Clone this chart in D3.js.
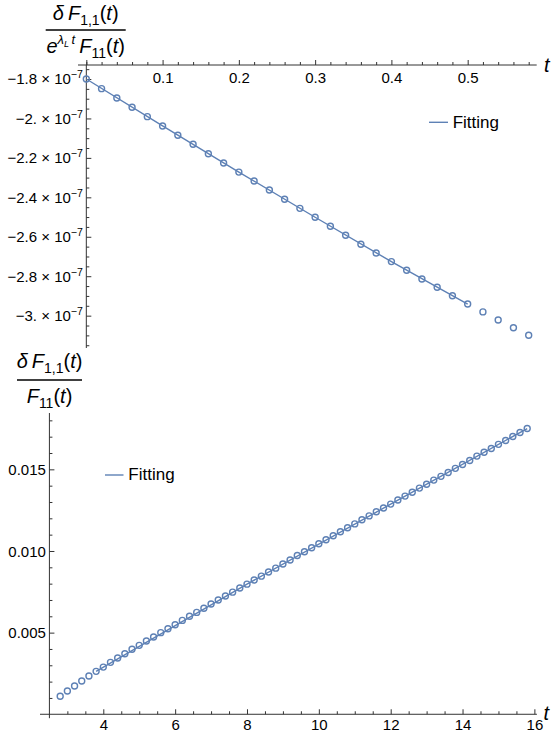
<!DOCTYPE html>
<html><head><meta charset="utf-8">
<script src="https://cdn.jsdelivr.net/npm/d3@7"></script>
<style>
body{margin:0;background:#fff;}
svg{display:block;font-family:"Liberation Sans",Arial,sans-serif;}
</style></head><body>
<svg id="c" width="552" height="737"></svg>
<script>
// ---------- data ----------
const topT = [0,0.02,0.04,0.06,0.08,0.10,0.12,0.14,0.16,0.18,0.20,0.22,0.24,0.26,0.28,0.30,0.32,0.34,0.36,0.38,0.40,0.42,0.44,0.46,0.48,0.50,0.52,0.54,0.56,0.58];
const topVals = [-1.800,-1.849,-1.896,-1.943,-1.991,-2.038,-2.085,-2.131,-2.179,-2.226,-2.272,-2.317,-2.363,-2.410,-2.456,-2.501,-2.547,-2.592,-2.638,-2.682,-2.726,-2.770,-2.814,-2.856,-2.899,-2.941,-2.981,-3.022,-3.061,-3.099]; // ×10^-7
const topFitT = [0,0.1,0.2,0.3,0.4,0.5];
const topFitVals = [-1.800,-2.038,-2.272,-2.501,-2.726,-2.941];
const topXTicks = [0.1,0.2,0.3,0.4,0.5];
const topXTickLabels = ["0.1","0.2","0.3","0.4","0.5"];
const topYTicks = [-1.8,-2.0,-2.2,-2.4,-2.6,-2.8,-3.0];
const topYTickLabels = ["\u22121.8","\u22122.","\u22122.2","\u22122.4","\u22122.6","\u22122.8","\u22123."];

const botT = [2.8,3.0,3.2,3.4,3.6,3.8,4.0,4.2,4.4,4.6,4.8,5.0,5.2,5.4,5.6,5.8,6.0,6.2,6.4,6.6,6.8,7.0,7.2,7.4,7.6,7.8,8.0,8.2,8.4,8.6,8.8,9.0,9.2,9.4,9.6,9.8,10.0,10.2,10.4,10.6,10.8,11.0,11.2,11.4,11.6,11.8,12.0,12.2,12.4,12.6,12.8,13.0,13.2,13.4,13.6,13.8,14.0,14.2,14.4,14.6,14.8,15.0,15.2,15.4,15.6,15.8];
const botVals = [0.00110,0.00143,0.00173,0.00204,0.00234,0.00263,0.00289,0.00318,0.00345,0.00371,0.00398,0.00422,0.00449,0.00473,0.00500,0.00524,0.00548,0.00575,0.00600,0.00624,0.00649,0.00675,0.00700,0.00724,0.00748,0.00773,0.00797,0.00822,0.00846,0.00871,0.00895,0.00920,0.00945,0.00972,0.00995,0.01020,0.01044,0.01069,0.01093,0.01118,0.01142,0.01166,0.01191,0.01215,0.01240,0.01263,0.01287,0.01312,0.01336,0.01360,0.01385,0.01409,0.01434,0.01457,0.01481,0.01506,0.01530,0.01554,0.01581,0.01605,0.01628,0.01653,0.01677,0.01701,0.01726,0.01750];
const botFitT = [3.8,8,12,15.8];
const botFitVals = [0.00263,0.00797,0.01287,0.01750];
const botXTicks = [4,6,8,10,12,14,16];
const botXTickLabels = ["4","6","8","10","12","14","16"];
const botYTicks = [0.005,0.010,0.015];
const botYTickLabels = ["0.005","0.010","0.015"];
const legendLabel = "Fitting";

// ---------- style ----------
const BLUE = "#5E81B5";
const AXIS = "#333";
const R = 3.0, SW = 1.4;
const svg = d3.select("#c");

function near(a,list){return list.some(b=>Math.abs(a-b)<1e-9);}

// ================= TOP PANEL =================
const xT = d3.scaleLinear().domain([-0.0109, 0.5905]).range([78, 536.7]);
const yT = d3.scaleLinear().domain([-1.729, -3.164]).range([65, 348]);
const gT = svg.append("g");

const topMinorX = d3.range(0, 0.5901, 0.02).map(v=>+v.toFixed(2)).filter(v=>!near(v,topXTicks));
gT.append("g").attr("transform","translate(0,65)").call(d3.axisTop(xT).tickValues(topMinorX).tickSize(3).tickFormat(""));
const gxT = gT.append("g").attr("transform","translate(0,65)").call(d3.axisTop(xT).tickValues([0].concat(topXTicks)).tickSize(5)
  .tickFormat((d)=>{const i=topXTicks.indexOf(d);return i<0?"":topXTickLabels[i];}));
gxT.selectAll("text").attr("y",18).attr("dy",0).style("font-size","15px").attr("fill","#000");

const topMinorY = d3.range(-1.75,-3.1601,-0.05).map(v=>+v.toFixed(2)).filter(v=>!near(v,topYTicks));
const y0x = xT(0);
gT.append("g").attr("transform",`translate(${y0x},0)`).call(d3.axisRight(yT).tickValues(topMinorY).tickSize(3).tickFormat(""));
gT.append("g").attr("transform",`translate(${y0x},0)`).call(d3.axisRight(yT).tickValues(topYTicks).tickSize(5).tickFormat(""));
gT.selectAll(".domain").remove();
gT.selectAll("line").attr("stroke",AXIS);
gT.append("line").attr("x1",78).attr("x2",536.7).attr("y1",65).attr("y2",65).attr("stroke",AXIS);
gT.append("line").attr("x1",y0x).attr("x2",y0x).attr("y1",yT(-1.729)).attr("y2",yT(-3.164)).attr("stroke",AXIS);

topYTicks.forEach((v,i)=>{
  const t = gT.append("text").attr("x",y0x-3.5).attr("y",yT(v)+5.3)
    .attr("text-anchor","end").style("font-size","15px").attr("fill","#000");
  t.append("tspan").text(topYTickLabels[i]+" \u00d7 10");
  t.append("tspan").attr("dy",-6).style("font-size","10.5px").text("\u22127");
});

gT.append("path").datum(topFitT.map((t,i)=>[t,topFitVals[i]]))
  .attr("d",d3.line().x(d=>xT(d[0])).y(d=>yT(d[1])))
  .attr("fill","none").attr("stroke",BLUE).attr("stroke-width",1.4);
gT.selectAll("circle.p").data(topT.map((t,i)=>[t,topVals[i]])).join("circle")
  .attr("cx",d=>xT(d[0])).attr("cy",d=>yT(d[1])).attr("r",R)
  .attr("fill","none").attr("stroke",BLUE).attr("stroke-width",SW);

gT.append("line").attr("x1",429).attr("x2",448).attr("y1",122.3).attr("y2",122.3).attr("stroke",BLUE).attr("stroke-width",1.4);
gT.append("text").attr("x",452.7).attr("y",128).style("font-size","17px").text(legendLabel);

gT.append("text").attr("x",544).attr("y",72).style("font-size","20px").style("font-style","italic").text("t");

(function(){
  const cx=85.7;
  gT.append("line").attr("x1",45.7).attr("x2",125.7).attr("y1",30).attr("y2",30).attr("stroke","#000").attr("stroke-width",1.3);
  const n = gT.append("text").attr("x",cx).attr("y",20).attr("text-anchor","middle").style("font-size","20px");
  n.append("tspan").style("font-style","italic").text("\u03b4\u2009F");
  n.append("tspan").attr("dy",5).style("font-size","14px").text("1,1");
  n.append("tspan").attr("dy",-5).text("(");
  n.append("tspan").style("font-style","italic").text("t");
  n.append("tspan").text(")");
  const d = gT.append("text").attr("x",cx).attr("y",53.3).attr("text-anchor","middle").style("font-size","20px");
  d.append("tspan").style("font-style","italic").text("e");
  d.append("tspan").attr("dy",-9).style("font-size","13px").style("font-style","italic").text("\u03bb");
  d.append("tspan").attr("dy",3).style("font-size","9px").style("font-style","italic").text("L");
  d.append("tspan").attr("dy",-3).style("font-size","13px").style("font-style","italic").text("\u2009t");
  d.append("tspan").attr("dy",9).style("font-style","italic").text("\u2009F");
  d.append("tspan").attr("dy",5).style("font-size","14px").text("11");
  d.append("tspan").attr("dy",-5).text("(");
  d.append("tspan").style("font-style","italic").text("t");
  d.append("tspan").text(")");
})();

// ================= BOTTOM PANEL =================
const xB = d3.scaleLinear().domain([2.238, 16.07]).range([40, 536.9]);
const yB = d3.scaleLinear().domain([-0.00024, 0.01845]).range([718.2, 413]);
const gB = svg.append("g");
const x0y = yB(0), y0xB = xB(2.5);

const botMinorX = d3.range(3,16.01,0.5).filter(v=>!near(v,botXTicks));
gB.append("g").attr("transform",`translate(0,${x0y})`).call(d3.axisTop(xB).tickValues(botMinorX).tickSize(3).tickFormat(""));
const gxB = gB.append("g").attr("transform",`translate(0,${x0y})`).call(d3.axisTop(xB).tickValues(botXTicks).tickSize(5)
  .tickFormat((d)=>botXTickLabels[botXTicks.indexOf(d)]));
gxB.selectAll("text").attr("y",16).attr("dy",0).style("font-size","15px").attr("fill","#000");

const botMinorY = d3.range(0.001,0.01801,0.001).map(v=>+v.toFixed(3)).filter(v=>!near(v,botYTicks));
gB.append("g").attr("transform",`translate(${y0xB},0)`).call(d3.axisRight(yB).tickValues(botMinorY).tickSize(3).tickFormat(""));
const gyB = gB.append("g").attr("transform",`translate(${y0xB},0)`).call(d3.axisRight(yB).tickValues(botYTicks).tickSize(5)
  .tickFormat((d)=>botYTickLabels[botYTicks.indexOf(d)]));
gyB.selectAll("text").attr("x",-3.5).attr("dy",0).attr("y",5.3).attr("text-anchor","end").style("font-size","15px").attr("fill","#000");
gB.selectAll(".domain").remove();
gB.selectAll("line").attr("stroke",AXIS);
gB.append("line").attr("x1",40).attr("x2",536.9).attr("y1",x0y).attr("y2",x0y).attr("stroke",AXIS);
gB.append("line").attr("x1",y0xB).attr("x2",y0xB).attr("y1",413).attr("y2",718.2).attr("stroke",AXIS);

gB.append("path").datum(botFitT.map((t,i)=>[t,botFitVals[i]]))
  .attr("d",d3.line().x(d=>xB(d[0])).y(d=>yB(d[1])))
  .attr("fill","none").attr("stroke",BLUE).attr("stroke-width",1.4);
gB.selectAll("circle.p").data(botT.map((t,i)=>[t,botVals[i]])).join("circle")
  .attr("cx",d=>xB(d[0])).attr("cy",d=>yB(d[1])).attr("r",R)
  .attr("fill","none").attr("stroke",BLUE).attr("stroke-width",SW);

gB.append("line").attr("x1",105).attr("x2",123.5).attr("y1",475).attr("y2",475).attr("stroke",BLUE).attr("stroke-width",1.4);
gB.append("text").attr("x",128.3).attr("y",479.8).style("font-size","17px").text(legendLabel);

gB.append("text").attr("x",543.5).attr("y",720).style("font-size","20px").style("font-style","italic").text("t");

(function(){
  const cx=49.5;
  gB.append("line").attr("x1",17).attr("x2",82).attr("y1",380).attr("y2",380).attr("stroke","#000").attr("stroke-width",1.3);
  const n = gB.append("text").attr("x",cx).attr("y",368.3).attr("text-anchor","middle").style("font-size","20px");
  n.append("tspan").style("font-style","italic").text("\u03b4\u2009F");
  n.append("tspan").attr("dy",5).style("font-size","14px").text("1,1");
  n.append("tspan").attr("dy",-5).text("(");
  n.append("tspan").style("font-style","italic").text("t");
  n.append("tspan").text(")");
  const d = gB.append("text").attr("x",cx).attr("y",402.7).attr("text-anchor","middle").style("font-size","20px");
  d.append("tspan").style("font-style","italic").text("F");
  d.append("tspan").attr("dy",5).style("font-size","14px").text("11");
  d.append("tspan").attr("dy",-5).text("(");
  d.append("tspan").style("font-style","italic").text("t");
  d.append("tspan").text(")");
})();
</script>
</body></html>
